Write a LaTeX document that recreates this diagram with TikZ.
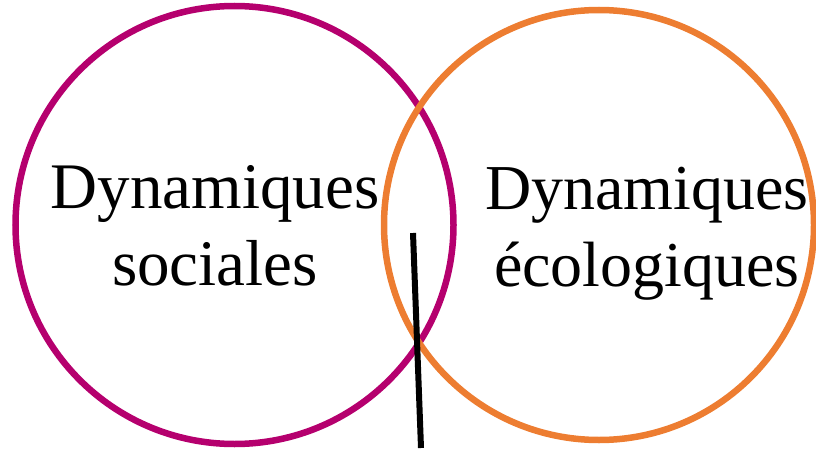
\documentclass[tikz,border=0pt]{standalone}
\usepackage{fontspec}
\setmainfont{Liberation Serif}
\usepackage{xcolor}
\usepackage{tikz}
\usetikzlibrary{positioning}

\definecolor{socmag}{RGB}{181,0,110}
\definecolor{ecoorange}{RGB}{237,125,49}

\begin{document}
\begin{tikzpicture}[x=1pt, y=1pt,
    ring/.style={circle, draw, line width=6.5pt, inner sep=0pt},
    label/.style={align=center, font=\fontsize{65}{77}\selectfont},
    divider/.style={line width=6pt, draw=black}
]
\useasboundingbox (0,0) rectangle (816,448);

\node[ring, draw=socmag, minimum size=438pt]    (soc) at (234.5,223) {};
\node[ring, draw=ecoorange, minimum size=430pt] (eco) at (599,223) {};

\node[label] (soctxt) at (215,222) {Dynamiques\\sociales};
\node[label, font=\fontsize{64}{77}\selectfont] (ecotxt) at (647,214) {Dynamiques\\écologiques};

\coordinate (cuttop) at (413,215);
\coordinate (cutbot) at (421,0);
\draw[divider] (cuttop) -- (cutbot);
\end{tikzpicture}
\end{document}
